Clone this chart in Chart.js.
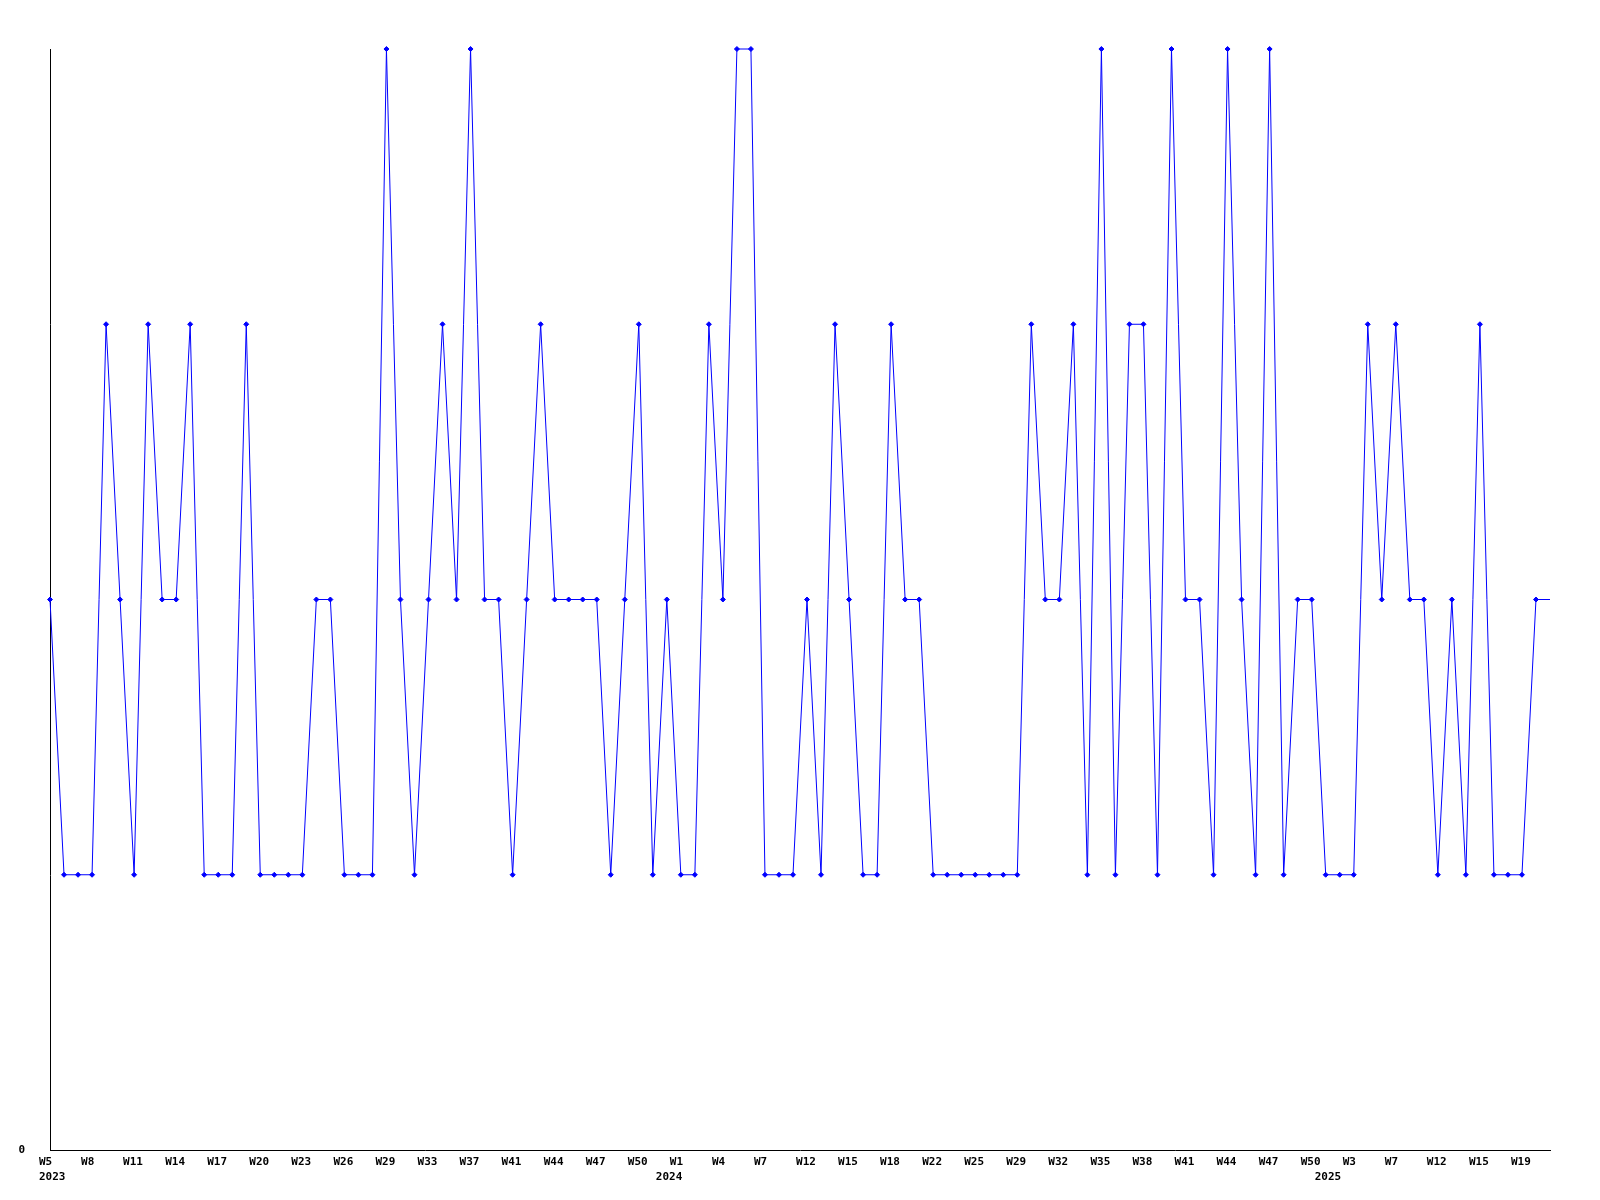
<!DOCTYPE html>
<html lang="en">
<head>
    <meta charset="UTF-8">
    <title>Weekly count</title>
    <script src="https://cdn.jsdelivr.net/npm/chart.js"></script>
    <style>
        html, body { margin: 0; padding: 0; background: #fff; }
        #wrap { width: 1600px; height: 1200px; }
    </style>
</head>
<body>
    <div id="wrap"><canvas id="weekChart" width="1600" height="1200"></canvas></div>

    <script>
        // week of each point (some weeks are missing in the data)
        const weeks = [
            'W5','W6','W7','W8','W9','W10','W11','W12','W13','W14',
            'W15','W16','W17','W18','W19','W20','W21','W22','W23','W24',
            'W25','W26','W27','W28','W29','W30','W31','W33','W34','W35',
            'W37','W38','W39','W41','W42','W43','W44','W45','W46','W47',
            'W48','W49','W50','W51','W52','W1','W2','W3','W4','W5',
            'W6','W7','W9','W11','W12','W13','W14','W15','W16','W17',
            'W18','W19','W21','W22','W23','W24','W25','W26','W28','W29',
            'W30','W31','W32','W33','W34','W35','W36','W37','W38','W39',
            'W40','W41','W42','W43','W44','W45','W46','W47','W48','W49',
            'W50','W52','W1','W3','W4','W6','W7','W9','W11','W12',
            'W13','W14','W15','W16','W18','W19','W20','W21'
        ];

        const counts = [
            2, 1, 1, 1, 3, 2, 1, 3, 2, 2,
            3, 1, 1, 1, 3, 1, 1, 1, 1, 2,
            2, 1, 1, 1, 4, 2, 1, 2, 3, 2,
            4, 2, 2, 1, 2, 3, 2, 2, 2, 2,
            1, 2, 3, 1, 2, 1, 1, 3, 2, 4,
            4, 1, 1, 1, 2, 1, 3, 2, 1, 1,
            3, 2, 2, 1, 1, 1, 1, 1, 1, 1,
            3, 2, 2, 3, 1, 4, 1, 3, 3, 1,
            4, 2, 2, 1, 4, 2, 1, 4, 1, 2,
            2, 1, 1, 1, 3, 2, 3, 2, 2, 1,
            2, 1, 3, 1, 1, 1, 2, 2
        ];

        // year captions and the point index they sit under
        const yearNames = ['2023', '2024', '2025'];
        const yearAt = [0, 44, 91];

        const tickEvery = 3;

        const labelFont = { family: 'DejaVu Sans Mono', size: 11, weight: 'bold', lineHeight: 15 / 11 };

        // last point has no marker, the line just runs to the edge
        const radii = counts.map((v, i) => i === counts.length - 1 ? 0 : 2.5);

        new Chart(document.getElementById('weekChart'), {
            type: 'line',
            data: {
                labels: weeks,
                datasets: [{
                    data: counts,
                    borderColor: '#0000ff',
                    backgroundColor: '#0000ff',
                    borderWidth: 1,
                    tension: 0,
                    pointStyle: 'rectRot',
                    pointRadius: radii,
                    pointBorderWidth: 1,
                    clip: false
                }]
            },
            options: {
                responsive: false,
                animation: false,
                layout: { padding: { top: 49, right: 50, left: 0, bottom: 0 } },
                plugins: {
                    legend: { display: false },
                    tooltip: { enabled: false }
                },
                scales: {
                    x: {
                        offset: false,
                        grid: { display: false, drawTicks: false },
                        border: { display: true, color: '#000', width: 1 },
                        afterFit: (scale) => { scale.height = 50; },
                        ticks: {
                            autoSkip: false,
                            maxRotation: 0,
                            minRotation: 0,
                            align: 'start',
                            labelOffset: -11,
                            padding: 5,
                            color: '#000',
                            font: labelFont,
                            callback: function (value, index) {
                                const y = yearAt.indexOf(index);
                                const week = index % tickEvery === 0 ? weeks[index] : '';
                                if (y >= 0) return [week, yearNames[y]];
                                return week ? week : null;
                            }
                        }
                    },
                    y: {
                        min: 0,
                        max: 4,
                        grid: { display: false, drawTicks: false },
                        border: { display: true, color: '#000', width: 1 },
                        afterFit: (scale) => { scale.width = 50; },
                        ticks: {
                            stepSize: 1,
                            padding: 25,
                            color: '#000',
                            font: labelFont,
                            callback: (v) => v === 0 ? '0' : ''
                        }
                    }
                }
            }
        });
    </script>
</body>
</html>
